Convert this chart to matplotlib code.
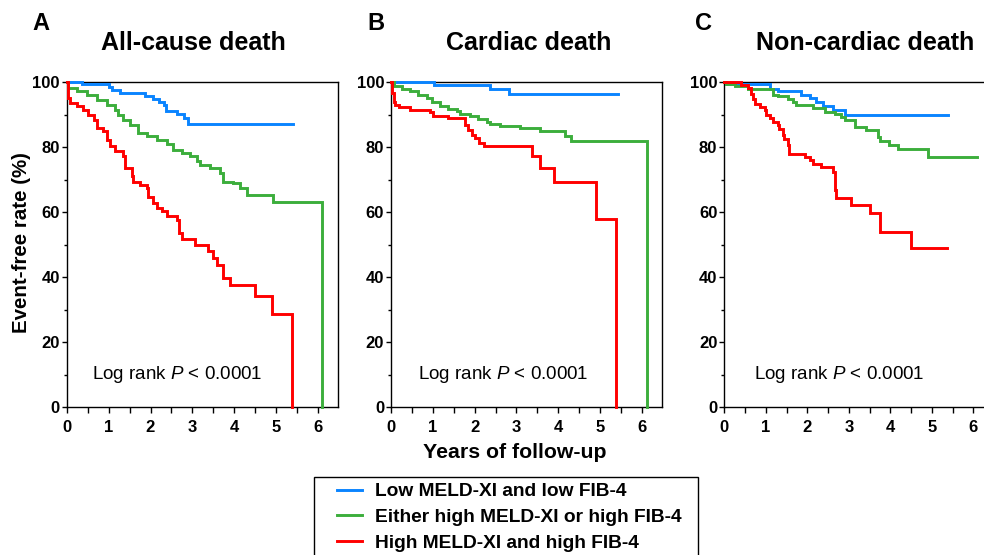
import matplotlib
matplotlib.use("Agg")
import matplotlib.pyplot as plt
from matplotlib.lines import Line2D
from matplotlib.patches import Rectangle
from matplotlib.ticker import MultipleLocator

plt.rcParams['font.family'] = ['Liberation Sans', 'DejaVu Sans']
plt.rcParams['mathtext.fontset'] = 'custom'
plt.rcParams['mathtext.rm'] = 'Liberation Sans'
plt.rcParams['mathtext.it'] = 'Liberation Sans:italic'

# ---------------- data ----------------
titles = ["All-cause death", "Cardiac death", "Non-cardiac death"]
letters = ["A", "B", "C"]
groups = ["Low MELD-XI and low FIB-4",
          "Either high MELD-XI or high FIB-4",
          "High MELD-XI and high FIB-4"]
colors = ["#0a84ff", "#3cae3c", "#ff0000"]
pval_text = r"Log rank $\mathit{P}$ < 0.0001"

# Panel A: all-cause death
A_low_t = [0, 0.36, 1.02, 1.07, 1.27, 1.87, 2.05, 2.21, 2.32, 2.37, 2.63, 2.80, 2.90, 5.40]
A_low_s = [100, 99.4, 98.5, 97.6, 96.6, 95.8, 94.8, 93.8, 92.8, 91.2, 90.2, 88.9, 87.0, 87.0]
A_mid_t = [0, 0.03, 0.24, 0.48, 0.72, 0.95, 1.15, 1.23, 1.35, 1.51, 1.71, 1.91, 2.15, 2.39,
           2.54, 2.74, 2.94, 3.10, 3.18, 3.42, 3.66, 3.74, 3.98, 4.14, 4.30, 4.93, 6.10]
A_mid_s = [100, 98.2, 97.1, 96.1, 94.6, 93.0, 91.5, 90.0, 88.4, 86.9, 84.3, 83.3, 82.3, 81.0,
           79.2, 78.2, 77.1, 75.6, 74.6, 73.5, 72.0, 69.4, 68.9, 67.4, 65.3, 63.0, 0]
A_high_t = [0, 0.02, 0.04, 0.08, 0.24, 0.40, 0.52, 0.64, 0.72, 0.87, 0.95, 1.03, 1.15, 1.35,
            1.39, 1.55, 1.59, 1.75, 1.91, 1.95, 2.07, 2.15, 2.27, 2.39, 2.63, 2.67, 2.74, 3.06,
            3.38, 3.50, 3.58, 3.74, 3.90, 4.49, 4.89, 5.37]
A_high_s = [100, 97, 95, 93.5, 92.5, 91.5, 90, 88.4, 85.8, 84.8, 82.3, 80.2, 78.7, 77.1,
            73.5, 71, 69.4, 68.4, 67.4, 64.8, 62.8, 61.2, 60.2, 58.7, 57.6, 53.5, 51.7, 50,
            47.9, 45.8, 43.8, 39.7, 37.6, 34.1, 28.6, 0]

# Panel B: cardiac death
B_low_t = [0, 1.03, 2.37, 2.83, 5.42]
B_low_s = [100, 99.1, 97.8, 96.3, 96.3]
B_mid_t = [0, 0.06, 0.26, 0.45, 0.65, 0.85, 0.97, 1.17, 1.37, 1.57, 1.65, 1.89, 2.09, 2.29,
           2.37, 2.61, 3.09, 3.57, 4.17, 4.30, 6.12]
B_mid_s = [100, 98.7, 97.8, 97.1, 96.1, 95.1, 94.0, 92.7, 91.7, 91.0, 90.2, 89.4, 88.6, 87.8,
           87.1, 86.6, 85.8, 84.8, 83.5, 82.0, 0]
B_high_t = [0, 0.02, 0.06, 0.10, 0.18, 0.45, 0.93, 1.00, 1.36, 1.77, 1.85, 1.93, 2.02, 2.10,
            2.22, 3.36, 3.56, 3.90, 4.90, 5.38]
B_high_s = [100, 96.6, 94.0, 93.0, 92.3, 91.5, 90.8, 89.7, 88.9, 86.9, 85.3, 83.8, 82.8, 81.3,
            80.2, 77.1, 73.6, 69.4, 57.8, 0]

# Panel C: non-cardiac death
C_low_t = [0, 0.03, 1.09, 1.29, 1.86, 2.06, 2.22, 2.38, 2.62, 2.90, 5.39]
C_low_s = [100, 99.4, 98.0, 97.1, 96.1, 95.1, 93.9, 92.7, 91.5, 90.0, 90.0]
C_mid_t = [0, 0.03, 0.25, 0.57, 1.17, 1.29, 1.53, 1.65, 1.73, 2.14, 2.42, 2.66, 2.82, 2.90,
           3.14, 3.42, 3.70, 3.74, 3.98, 4.18, 4.91, 6.10]
C_mid_s = [100, 99.5, 98.8, 98.0, 96.1, 95.6, 94.9, 93.9, 92.8, 92.0, 90.8, 90.3, 89.2, 88.2,
           86.2, 85.1, 83.1, 81.8, 80.5, 79.3, 76.8, 76.8]
C_high_t = [0, 0.41, 0.57, 0.65, 0.69, 0.75, 0.85, 0.97, 1.01, 1.09, 1.17, 1.29, 1.33, 1.41,
            1.45, 1.53, 1.57, 1.94, 2.06, 2.14, 2.34, 2.62, 2.66, 2.70, 3.06, 3.50, 3.74, 4.49, 5.37]
C_high_s = [100, 99.2, 98.1, 96.4, 94.7, 93.3, 92.3, 91.3, 90.0, 88.9, 87.7, 86.9, 85.7, 83.6,
            82.6, 80.5, 78.0, 76.9, 75.9, 74.9, 73.9, 72.3, 66.7, 64.2, 62.3, 59.6, 53.9, 49.0, 49.0]

panels = [
    [(A_low_t, A_low_s), (A_mid_t, A_mid_s), (A_high_t, A_high_s)],
    [(B_low_t, B_low_s), (B_mid_t, B_mid_s), (B_high_t, B_high_s)],
    [(C_low_t, C_low_s), (C_mid_t, C_mid_s), (C_high_t, C_high_s)],
]

# ---------------- layout ----------------
W, H = 984, 555
fig = plt.figure(figsize=(W / 100, H / 100), dpi=100)

ax_left_px = [66.7, 391.0, 724.3]
ax_w_px = [271.0, 271.0, 300.0]
ax_top_px, ax_bot_px = 82.0, 407.3
px_per_year = [41.9, 41.83, 41.5]
title_x_px = [193, 529, 865]
letter_x_px = [32, 367, 695]
pval_x = [0.60, 0.65, 0.72]

for i in range(3):
    ax = fig.add_axes([ax_left_px[i] / W, 1 - ax_bot_px / H, ax_w_px[i] / W,
                       (ax_bot_px - ax_top_px) / H])
    for g in range(3):
        t, s = panels[i][g]
        ax.step(t, s, where='post', color=colors[g], lw=2.1, solid_joinstyle='miter',
                clip_on=False, zorder=3)
    ax.set_xlim(0, ax_w_px[i] / px_per_year[i])
    ax.set_ylim(0, 100)
    ax.xaxis.set_major_locator(MultipleLocator(1))
    ax.xaxis.set_minor_locator(MultipleLocator(0.5))
    ax.yaxis.set_major_locator(MultipleLocator(20))
    ax.yaxis.set_minor_locator(MultipleLocator(10))
    ax.set_xticks([0, 1, 2, 3, 4, 5, 6])
    ax.tick_params(axis='x', which='both', direction='out', length=4, width=1.0,
                   pad=5.5, labelsize=12)
    ax.tick_params(axis='y', which='major', direction='out', length=3.5, width=1.0,
                   pad=1.5, labelsize=12)
    ax.tick_params(axis='y', which='minor', direction='out', length=2, width=1.0)
    for lab in ax.get_xticklabels() + ax.get_yticklabels():
        lab.set_fontweight('bold')
    for sp in ax.spines.values():
        sp.set_linewidth(1.0)
        sp.set_color('black')
    ax.text(pval_x[i], 10, pval_text, fontsize=13.5, ha='left', va='center')
    fig.text(title_x_px[i] / W, 1 - 43 / H, titles[i], fontsize=18, fontweight='bold',
             ha='center', va='center')
    fig.text(letter_x_px[i] / W, 1 - 23 / H, letters[i], fontsize=17, fontweight='bold',
             ha='left', va='center')

fig.text(22 / W, 1 - 243 / H, "Event-free rate (%)", rotation=90, fontsize=14.8,
         fontweight='bold', ha='center', va='center')
fig.text(515 / W, 1 - 452 / H, "Years of follow-up", fontsize=15.3, fontweight='bold',
         ha='center', va='center')

# legend
handles = [Line2D([], [], color=colors[g], lw=2.1) for g in range(3)]
fig.legend(handles, groups, loc='upper left', bbox_to_anchor=(337 / W, 1 - 483 / H),
           frameon=False, prop={'weight': 'bold', 'size': 13.8},
           handlelength=1.3, handletextpad=0.68, labelspacing=0.43, borderaxespad=0,
           borderpad=0)
fig.patches.append(Rectangle((314 / W, -0.05), (698 - 314) / W, 0.05 + (1 - 477 / H),
                             transform=fig.transFigure, fill=False, edgecolor='black',
                             lw=1.0))

fig.savefig("out.png", dpi=100)
